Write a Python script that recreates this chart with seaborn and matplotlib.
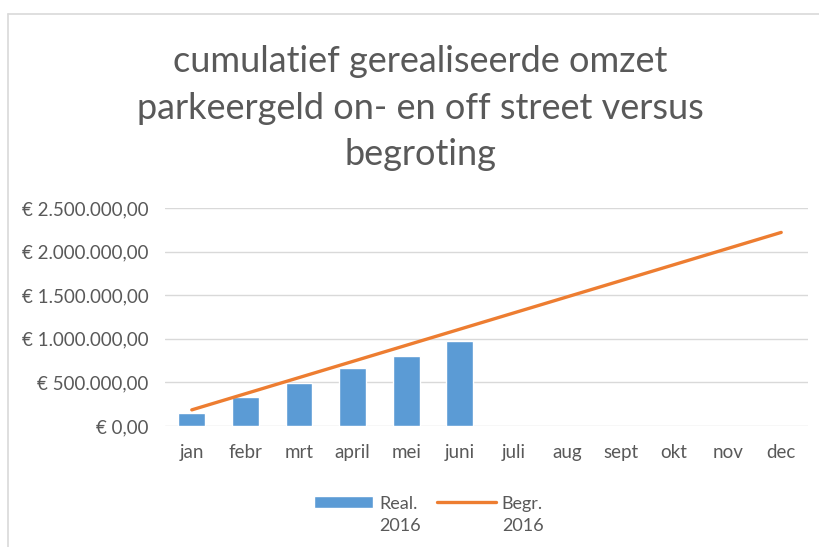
import numpy as np
import pandas as pd
import matplotlib
matplotlib.use("Agg")
import matplotlib.pyplot as plt
from matplotlib.lines import Line2D
from matplotlib.ticker import FuncFormatter
import seaborn as sns

sns.set_theme(style="white")
plt.rcParams['font.family'] = ['Lato', 'DejaVu Sans']

months = ['jan', 'febr', 'mrt', 'april', 'mei', 'juni',
          'juli', 'aug', 'sept', 'okt', 'nov', 'dec']
# realised cumulative revenue (first half year only)
realisatie = [153000, 330000, 494000, 667000, 805000, 980000,
              np.nan, np.nan, np.nan, np.nan, np.nan, np.nan]
# cumulative budget
begroting = [185000, 370000, 555000, 740000, 925000, 1110000,
             1295000, 1480000, 1665000, 1850000, 2035000, 2220000]
yticks = [0, 500000, 1000000, 1500000, 2000000, 2500000]

df = pd.DataFrame({'maand': months, 'real': realisatie, 'begr': begroting})

grey = '#595959'
fig = plt.figure(figsize=(8.19, 5.47), dpi=100)
ax = fig.add_axes([165 / 819, 1 - 426 / 547, 643 / 819, 218 / 547])

sns.barplot(data=df, x='maand', y='real', order=months, color='#5B9BD5',
            width=0.5, saturation=1, ax=ax, label='Real.\n2016')
sns.lineplot(data=df, x='maand', y='begr', color='#ED7D31', linewidth=2.4,
             ax=ax, label='Begr.\n2016', sort=False)

def euro(v, pos):
    s = f"{v:,.2f}".replace(',', 'X').replace('.', ',').replace('X', '.')
    return '€ ' + s

ax.set_ylim(0, 2500000)
ax.set_xlim(-0.5, 11.5)
ax.set_yticks(yticks)
ax.yaxis.set_major_formatter(FuncFormatter(euro))
ax.grid(axis='y', color='#D9D9D9', linewidth=1)
ax.set_axisbelow(True)
for s in ax.spines.values():
    s.set_visible(False)
ax.tick_params(axis='both', length=0, labelsize=13.5, colors=grey)
ax.tick_params(axis='y', pad=12)
ax.tick_params(axis='x', pad=13)
ax.set_xlabel('')
ax.set_ylabel('')

fig.text(0.513, 0.917, 'cumulatief gerealiseerde omzet\nparkeergeld on- en off street versus\nbegroting',
         ha='center', va='top', fontsize=26, color=grey, linespacing=1.5)

handles, labels = ax.get_legend_handles_labels()
order = [labels.index('Real.\n2016'), labels.index('Begr.\n2016')]
leg = ax.legend([handles[i] for i in order], [labels[i] for i in order],
                loc='upper center', bbox_to_anchor=(0.41, -0.245),
                ncol=2, frameon=False, fontsize=13, labelcolor=grey,
                handlelength=3.3, columnspacing=0.9, handletextpad=0.3)
for t in leg.get_texts():
    t.set_linespacing(1.45)
for hp in leg._legend_handle_box.get_children():
    for item in hp.get_children():
        item.align = 'top'

# chart border
fig.add_artist(Line2D([8 / 819, 1], [1 - 14 / 547, 1 - 14 / 547], color='#D9D9D9', linewidth=1.2))
fig.add_artist(Line2D([8 / 819, 8 / 819], [0, 1 - 14 / 547], color='#D9D9D9', linewidth=1.2))

fig.savefig('out.png', dpi=100)
